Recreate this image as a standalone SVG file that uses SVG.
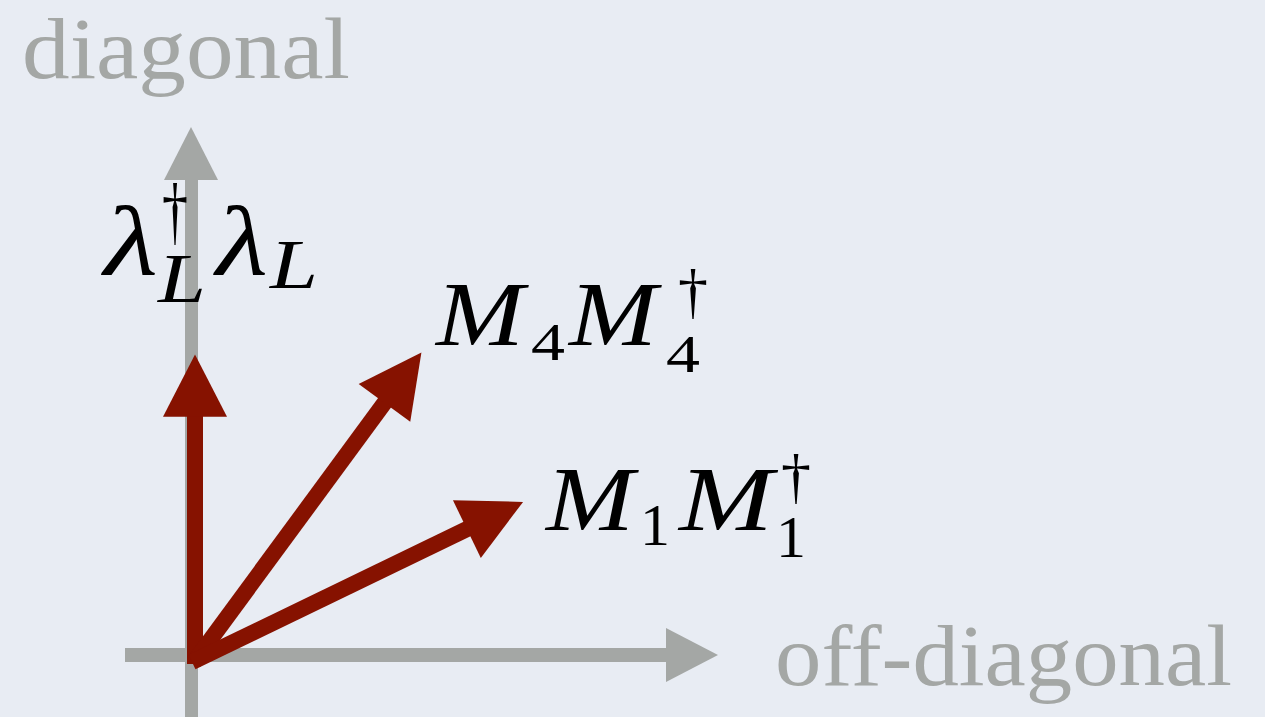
<svg xmlns="http://www.w3.org/2000/svg" width="1265" height="717" viewBox="0 0 1265 717">
<style>
.axis{fill:#a4a7a5}
.lbl{font-family:"Liberation Serif",serif;fill:#a4a7a5}
.red{stroke:#861200;stroke-width:16;fill:none}
.m{font-family:"Liberation Serif",serif;fill:#000;font-style:italic}
.r{font-family:"Liberation Serif",serif;fill:#000}
</style>
<defs>
<marker id="ah" markerWidth="4" markerHeight="4" refX="0.3" refY="2" orient="auto" markerUnits="strokeWidth" overflow="visible">
<path d="M0,0 L3.9,2 L0,4 z" fill="#861200"/>
</marker>
</defs>
<rect width="1265" height="717" fill="#e8ecf3"/>
<g id="axes">
<rect class="axis" x="185" y="178" width="13" height="539"/>
<polygon class="axis" points="164,180 218,180 191,127"/>
<rect class="axis" x="125" y="648" width="543" height="14"/>
<polygon class="axis" points="666,628 666,682 718,655"/>
</g>
<g id="connectors">
<line class="red" x1="195" y1="664" x2="195" y2="412" marker-end="url(#ah)"/>
<line class="red" x1="194" y1="662" x2="387.3" y2="399" marker-end="url(#ah)"/>
<line class="red" x1="192" y1="662" x2="471.2" y2="527" marker-end="url(#ah)"/>
</g>
<g id="diagonal"><text class="lbl" x="22" y="78" font-size="86" textLength="328" lengthAdjust="spacingAndGlyphs">diagonal</text></g>
<g id="off-diagonal"><text class="lbl" x="775" y="685" font-size="86" textLength="457" lengthAdjust="spacingAndGlyphs">off-diagonal</text></g>
<g id="lambda">
<text class="m" x="104" y="275" font-size="100" textLength="54" lengthAdjust="spacingAndGlyphs">λ</text>
<text class="r" x="162" y="236" font-size="76" textLength="26" lengthAdjust="spacingAndGlyphs">†</text>
<text class="m" x="158" y="302" font-size="70" textLength="48" lengthAdjust="spacingAndGlyphs">L</text>
<text class="m" x="216" y="275" font-size="100" textLength="52" lengthAdjust="spacingAndGlyphs">λ</text>
<text class="m" x="270" y="288" font-size="70" textLength="48" lengthAdjust="spacingAndGlyphs">L</text>
</g>
<g id="M4">
<text class="m" x="436" y="345" font-size="92" textLength="88" lengthAdjust="spacingAndGlyphs">M</text>
<text class="r" x="531" y="360" font-size="52" textLength="34" lengthAdjust="spacingAndGlyphs">4</text>
<text class="m" x="569" y="345" font-size="92" textLength="88" lengthAdjust="spacingAndGlyphs">M</text>
<text class="r" x="678" y="312" font-size="62" textLength="30" lengthAdjust="spacingAndGlyphs">†</text>
<text class="r" x="666" y="372" font-size="52" textLength="34" lengthAdjust="spacingAndGlyphs">4</text>
</g>
<g id="M1">
<text class="m" x="546" y="530" font-size="92" textLength="88" lengthAdjust="spacingAndGlyphs">M</text>
<text class="r" x="640" y="545" font-size="60" textLength="30" lengthAdjust="spacingAndGlyphs">1</text>
<text class="m" x="679" y="530" font-size="92" textLength="94" lengthAdjust="spacingAndGlyphs">M</text>
<text class="r" x="781" y="497" font-size="62" textLength="30" lengthAdjust="spacingAndGlyphs">†</text>
<text class="r" x="776" y="557" font-size="60" textLength="30" lengthAdjust="spacingAndGlyphs">1</text>
</g>
</svg>
